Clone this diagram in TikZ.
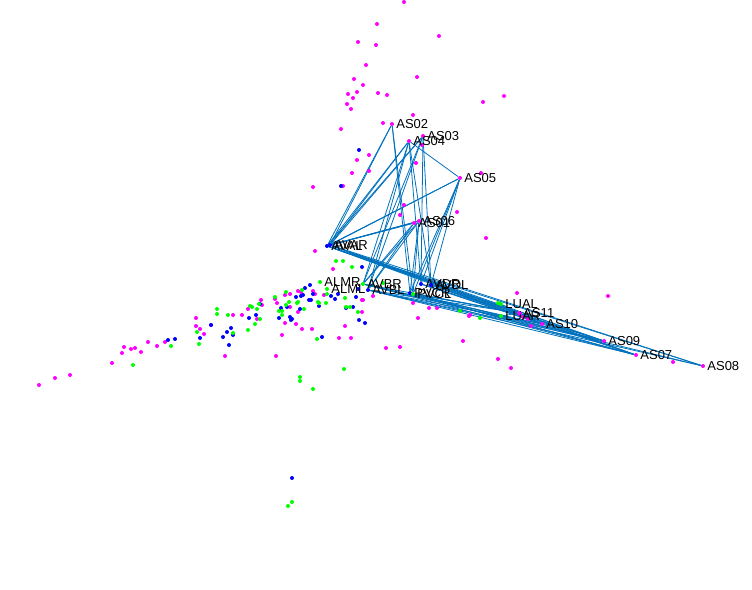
\documentclass[tikz,border=0pt]{standalone}
\usepackage{fontspec}
\setmainfont{Liberation Sans}
\usetikzlibrary{backgrounds}

\definecolor{linkblue}{rgb}{0,0.447,0.741}
\definecolor{cmag}{rgb}{1,0,1}
\definecolor{cblue}{rgb}{0,0,1}
\definecolor{cgreen}{rgb}{0,1,0}

\begin{document}
\begin{tikzpicture}[x=1pt, y=-1pt,
    cell/.style={circle, fill=#1, inner sep=0pt, minimum size=4pt},
    tag/.style={anchor=west, inner sep=0pt, text=black, font=\fontsize{13}{15}\selectfont},
    link/.style={draw=linkblue, line width=0.8pt}
]
    \useasboundingbox (0,0) rectangle (752,589);

    % unlabelled cells
    \foreach \x/\y in {404/2, 377/24, 439/36, 358/42, 376/45, 366/65, 417/77, 354/79,
        363/85, 357/92, 348/94, 353/98, 378/93, 387/95, 347/104, 351/109, 483/102,
        504/96, 413/115, 383/123, 341/129, 369/155, 357/160, 352/173, 369/171, 343/186,
        313/187, 422/145, 416/163, 481/173, 457/212, 404/205, 400/215, 486/238, 315/251,
        333/269, 517/293, 608/296, 39/385, 55/378, 70/375, 112/363, 122/353, 124/347,
        131/349, 135/348, 141/352, 148/342, 157/346, 165/342, 196/318, 196/326, 200/329,
        204/334, 211/325, 233/315, 242/315, 225/356, 248/309, 257/319, 261/300, 262/305,
        275/299, 277/303, 282/335, 276/356, 285/295, 290/294, 290/307, 285/323, 298/312,
        296/324, 302/329, 312/329, 315/294, 313/291, 301/292, 324/295, 362/300, 362/312,
        345/326, 339/338, 351/338, 373/296, 363/300, 386/348, 400/347, 413/303, 429/308,
        437/308, 418/318, 469/316, 470/315, 520/314, 523/317, 528/319, 531/326, 463/341,
        498/359, 511/368, 673/362, 298/291}
        \fill[cmag] (\x,\y) circle (2);
    \foreach \x/\y in {359/150, 341/186, 168/340, 175/339, 200/338, 211/325, 223/337,
        227/332, 231/328, 233/335, 229/345, 249/318, 256/315, 260/304, 281/308, 279/318,
        287/307, 290/317, 291/320, 292/319, 296/297, 300/309, 301/296, 303/295, 309/300,
        311/300, 313/294, 319/306, 331/296, 335/299, 338/294, 346/308, 353/307, 356/297,
        359/320, 365/323, 322/337, 292/478, 358/289, 362/267, 310/285, 305/288}
        \fill[cblue] (\x,\y) circle (2);
    \foreach \x/\y in {171/346, 133/365, 197/332, 199/344, 217/309, 217/314, 228/315,
        233/333, 248/330, 250/306, 252/307, 257/309, 255/324, 260/319, 259/304, 275/297,
        279/311, 282/311, 282/315, 286/292, 289/302, 286/305, 297/303, 298/302, 304/309,
        318/302, 319/303, 326/303, 327/294, 345/298, 346/307, 350/307, 358/312, 317/339,
        344/369, 300/377, 300/381, 313/389, 292/502, 288/506, 336/261, 352/267, 343/261,
        383/283, 460/311, 480/318, 498/303, 302/290}
        \fill[cgreen] (\x,\y) circle (2);

    % labelled cells
    \foreach \n/\x/\y/\c in {AS02/392/124/cmag, AS03/423/136/cmag, AS04/409/141/cmag,
        AS05/460/178/cmag, AS01/414/223/cmag, AS06/419/221/cmag, AVAL/327/246/cblue,
        AVAR/330/245/cblue, ALMR/320/282/cgreen, ALML/327/289/cgreen, AVBR/363/284/cgreen,
        AVBL/368/290/cblue, AVDR/421/284/cblue, AVDL/431/285/cblue, PVCR/410/293/cblue,
        PVCL/413/294/cgreen, LUAL/501/304/cgreen, LUAR/501/316/cgreen, AS11/519/313/cmag,
        AS10/542/324/cmag, AS09/604/341/cmag, AS07/636/355/cmag, AS08/703/366/cmag}
    {
        \node[cell=\c] (\n) at (\x,\y) {};
        \node[tag] (\n-t) at ([xshift=2pt]\n.east) {\n};
    }

    % links
    \begin{scope}[on background layer]
        \foreach \a in {AVAL, AVAR}
            \foreach \b in {AS01, AS02, AS03, AS04, AS05, AS06, AS07, AS08, AS09, AS10, AS11}
                \draw[link] (\a) -- (\b);
        \foreach \a in {AVBL, AVBR}
            \foreach \b in {AS01, AS03, AS04, AS06, AS07, AS08, AS09, AS10, AS11}
                \draw[link] (\a) -- (\b);
        \foreach \a in {AVDL, AVDR}
            \foreach \b in {AS03, AS04, AS05, AS07, AS09, AS10}
                \draw[link] (\a) -- (\b);
        \foreach \a in {PVCL, PVCR}
            \foreach \b in {AS02, AS05, AS06, AS07, AS09, AS11}
                \draw[link] (\a) -- (\b);
        \draw[link] (AS04) -- (AS05);
        \draw[link] (LUAL) -- (AS10);
        \draw[link] (LUAR) -- (AS11);
    \end{scope}
\end{tikzpicture}
\end{document}
